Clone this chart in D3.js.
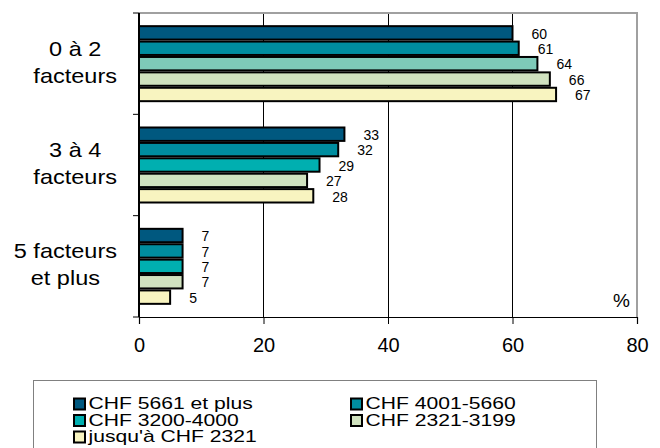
<!DOCTYPE html>
<html>
<head>
<meta charset="utf-8">
<script src="https://cdn.jsdelivr.net/npm/d3@7"></script>
<style>
  html, body { margin: 0; padding: 0; background: #fff; }
  svg { display: block; font-family: Arial, "Liberation Sans", sans-serif; }
</style>
</head>
<body>
<svg id="chart" width="660" height="448"></svg>
<script>
// Categories (number of factors) and income classes
const categories = [["0 à 2", "facteurs"], ["3 à 4", "facteurs"], ["5 facteurs", "et plus"]];
const seriesNames = ["CHF 5661 et plus", "CHF 4001-5660", "CHF 3200-4000", "CHF 2321-3199", "jusqu'à CHF 2321"];
const seriesColors = ["#00587f", "#008d9f", "#00afb0", "#d0e2bf", "#f8f4c0"];

// Percentages per income class, one value per category
const s5661plus   = [60, 33, 7];
const s4001_5660  = [61, 32, 7];
const s3200_4000  = [64, 29, 7];
const s2321_3199  = [66, 27, 7];
const sUpTo2321   = [67, 28, 5];
const seriesValues = [s5661plus, s4001_5660, s3200_4000, s2321_3199, sUpTo2321];

// Per-bar fill override (category index, series index)
const fillOverrides = [{ cat: 0, ser: 2, color: "#7ecab8" }];

const xTicks = [0, 20, 40, 60, 80];

const svg = d3.select("#chart");
const plot = { left: 139, right: 637, top: 13, bottom: 317 };
// Text in this chart is drawn slightly wide
const textStretch = 1.12;
const legendStretch = 1.32;

const x = d3.scaleLinear().domain([0, 80]).range([plot.left, plot.right]);
const yCat = d3.scaleBand().domain(d3.range(categories.length))
  .range([plot.top, plot.bottom]).paddingInner(0.24).paddingOuter(0.12);
const ySer = d3.scaleBand().domain(d3.range(seriesNames.length))
  .range([0, yCat.bandwidth()]).padding(0);

// Vertical gridlines
svg.append("g").selectAll("line").data(xTicks.filter(t => t > 0 && t < 80)).join("line")
  .attr("x1", d => x(d)).attr("x2", d => x(d))
  .attr("y1", plot.top).attr("y2", plot.bottom)
  .attr("stroke", "#000").attr("stroke-width", 1).attr("shape-rendering", "crispEdges");

// Plot frame: grey top and right edges
svg.append("path")
  .attr("d", `M${plot.left},${plot.top}H${plot.right}V${plot.bottom}`)
  .attr("fill", "none").attr("stroke", "#a0a0a0").attr("stroke-width", 2);

// Bars
const bars = [];
seriesValues.forEach((vals, s) => vals.forEach((v, c) => bars.push({ s, c, v })));
const fillFor = d => {
  const o = fillOverrides.find(f => f.cat === d.c && f.ser === d.s);
  return o ? o.color : seriesColors[d.s];
};
svg.append("g").selectAll("rect").data(bars).join("rect")
  .attr("x", x(0))
  .attr("y", d => yCat(d.c) + ySer(d.s) + 1)
  .attr("width", d => x(d.v) - x(0))
  .attr("height", ySer.bandwidth() - 2)
  .attr("fill", fillFor)
  .attr("stroke", "#000").attr("stroke-width", 2);

// Value labels
svg.append("g").selectAll("text").data(bars).join("text")
  .attr("x", d => x(d.v) + 19)
  .attr("y", d => yCat(d.c) + ySer(d.s) + ySer.bandwidth() / 2 + 2)
  .attr("dominant-baseline", "middle")
  .attr("font-size", 14).attr("fill", "#000")
  .text(d => d.v);

// Left axis
const yAxisTicks = [plot.top, ...d3.range(1, categories.length).map(i => yCat(i) - yCat.step() * yCat.paddingInner() / 2), plot.bottom];
svg.append("line").attr("x1", plot.left).attr("x2", plot.left)
  .attr("y1", plot.top).attr("y2", plot.bottom)
  .attr("stroke", "#000").attr("stroke-width", 2);
svg.append("g").selectAll("line").data(yAxisTicks).join("line")
  .attr("x1", plot.left - 6).attr("x2", plot.left)
  .attr("y1", d => d).attr("y2", d => d)
  .attr("stroke", "#000").attr("stroke-width", 1);

// Bottom axis
const xAxis = d3.axisBottom(x).tickValues(xTicks).tickSize(7).tickPadding(14);
const gx = svg.append("g").attr("transform", `translate(0,${plot.bottom})`).call(xAxis);
gx.select(".domain").attr("stroke", "#000").attr("stroke-width", 1.2);
gx.selectAll(".tick line").attr("stroke", "#000");
gx.selectAll(".tick text").attr("font-size", 20).attr("fill", "#000")
  .attr("font-family", "Arial, 'Liberation Sans', sans-serif");

// Category labels: each block right-aligned, lines centred inside the block
const catRight = 117;
categories.forEach((lines, i) => {
  const g = svg.append("g");
  const cy = yCat(i) + yCat.bandwidth() / 2;
  const texts = lines.map((t, j) => g.append("text")
    .attr("dominant-baseline", "middle")
    .attr("text-anchor", "middle")
    .attr("font-size", 21).attr("fill", "#000").text(t)
    .datum(cy + (j - (lines.length - 1) / 2) * 27));
  const w = d3.max(texts, t => t.node().getComputedTextLength()) * textStretch;
  texts.forEach(t => t.attr("transform", d => `translate(${catRight - w / 2},${d}) scale(${textStretch},1)`));
});

// Unit label
svg.append("text").attr("x", 630).attr("y", 302)
  .attr("text-anchor", "end").attr("dominant-baseline", "middle")
  .attr("font-size", 19).attr("fill", "#000").text("%");

// Legend
const legend = svg.append("g");
legend.append("rect").attr("x", 33.5).attr("y", 380.5).attr("width", 563).attr("height", 80)
  .attr("fill", "#fff").attr("stroke", "#808080").attr("stroke-width", 1);
const legCols = [74, 351];
const legRows = [404.5, 421, 437.5];
const items = legend.selectAll("g.item").data(seriesNames).join("g").attr("class", "item")
  .attr("transform", (d, i) => `translate(${legCols[i % 2]},${legRows[Math.floor(i / 2)]})`);
items.append("rect").attr("x", 0).attr("y", -6).attr("width", 11).attr("height", 11)
  .attr("fill", (d, i) => seriesColors[i]).attr("stroke", "#000").attr("stroke-width", 2);
items.append("text").attr("dominant-baseline", "middle")
  .attr("transform", `translate(14.5,0.5) scale(${legendStretch},1)`)
  .attr("font-size", 16).attr("fill", "#000").text(d => d);
</script>
</body>
</html>
